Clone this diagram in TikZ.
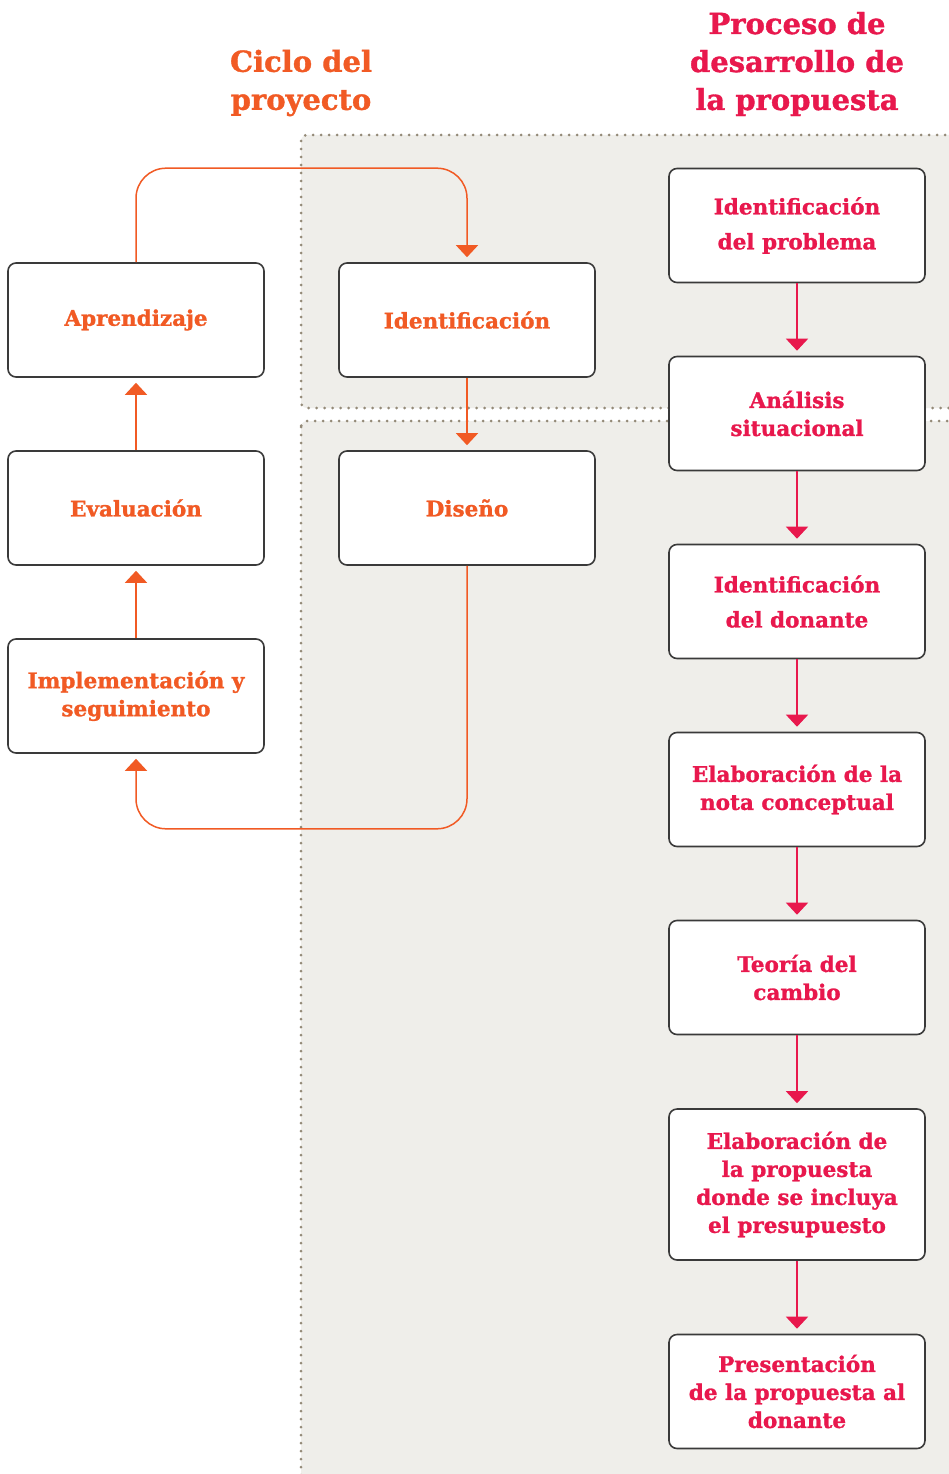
\documentclass[tikz,border=0pt]{standalone}
\usepackage{fontspec}
\setmainfont{DejaVu Serif}[BoldFeatures={FakeBold=1.2}]
\usetikzlibrary{arrows.meta,calc}
\definecolor{oran}{HTML}{F15A24}
\definecolor{crim}{HTML}{E8184D}
\definecolor{boxline}{HTML}{3A3A3A}
\definecolor{graybg}{HTML}{EFEEEA}
\definecolor{dotc}{HTML}{948A78}
\tikzset{
  stepbox/.style={draw=boxline, line width=1.6pt, fill=white, rounded corners=8pt,
    minimum width=256pt, minimum height=114pt, align=center, inner sep=2pt,
    font=\bfseries\fontsize{21.5}{28}\selectfont},
  obox/.style={stepbox, text=oran},
  cbox/.style={stepbox, text=crim},
  oarr/.style={draw=oran, line width=1.5pt, -{Triangle[width=22pt,length=12pt]}, shorten >=5pt},
  carr/.style={draw=crim, line width=1.5pt, -{Triangle[width=22pt,length=12pt]}, shorten >=5pt},
  region/.style={fill=graybg, draw=dotc, line width=3pt, line cap=round, dash pattern=on 0pt off 8pt, rounded corners=6pt},
  ttl/.style={align=center, font=\bfseries\fontsize{29}{38}\selectfont}
}
\begin{document}
\begin{tikzpicture}[x=1pt,y=-1pt]
\useasboundingbox (0,0) rectangle (949,1474);
\clip (0,0) rectangle (949,1474);
\fill[white] (0,0) rectangle (949,1474);
\draw[region] (301,135) rectangle (965,408);
\draw[region] (301,421) rectangle (965,1495);

\node[ttl, text=oran] (t1) at (301,83) {Ciclo del\\proyecto};
\node[ttl, text=crim] (t2) at (797,64) {Proceso de\\desarrollo de\\la propuesta};

\node[obox] (apr) at (136,320) {Aprendizaje};
\node[obox] (eva) at (136,508) {Evaluación};
\node[obox] (imp) at (136,696) {Implementación y\\seguimiento};
\node[obox] (idn) at (467,320) {Identificación};
\node[obox] (dis) at (467,508) {Diseño};

\node[cbox, font=\bfseries\fontsize{21.5}{35}\selectfont] (r1) at (797,225.5) {Identificación\\del problema};
\node[cbox] (r2) at (797,413.5) {Análisis\\situacional};
\node[cbox, font=\bfseries\fontsize{21.5}{35}\selectfont] (r3) at (797,601.5) {Identificación\\del donante};
\node[cbox] (r4) at (797,789.5) {Elaboración de la\\nota conceptual};
\node[cbox] (r5) at (797,977.5) {Teoría del\\cambio};
\node[cbox, minimum height=151pt] (r6) at (797,1184.5) {Elaboración de\\la propuesta\\donde se incluya\\el presupuesto};
\node[cbox] (r7) at (797,1391.5) {Presentación\\de la propuesta al\\donante};

\draw[oarr, rounded corners=30pt] (apr.north) |- ($(idn.north)+(0,-94)$) -- (idn.north);
\draw[oarr] (idn.south) -- (dis.north);
\draw[oarr, rounded corners=30pt] (dis.south) |- ($(imp.south)+(0,75)$) -- (imp.south);
\draw[oarr] (imp.north) -- (eva.south);
\draw[oarr] (eva.north) -- (apr.south);

\draw[carr] (r1.south) -- (r2.north);
\draw[carr] (r2.south) -- (r3.north);
\draw[carr] (r3.south) -- (r4.north);
\draw[carr] (r4.south) -- (r5.north);
\draw[carr] (r5.south) -- (r6.north);
\draw[carr] (r6.south) -- (r7.north);
\end{tikzpicture}
\end{document}
